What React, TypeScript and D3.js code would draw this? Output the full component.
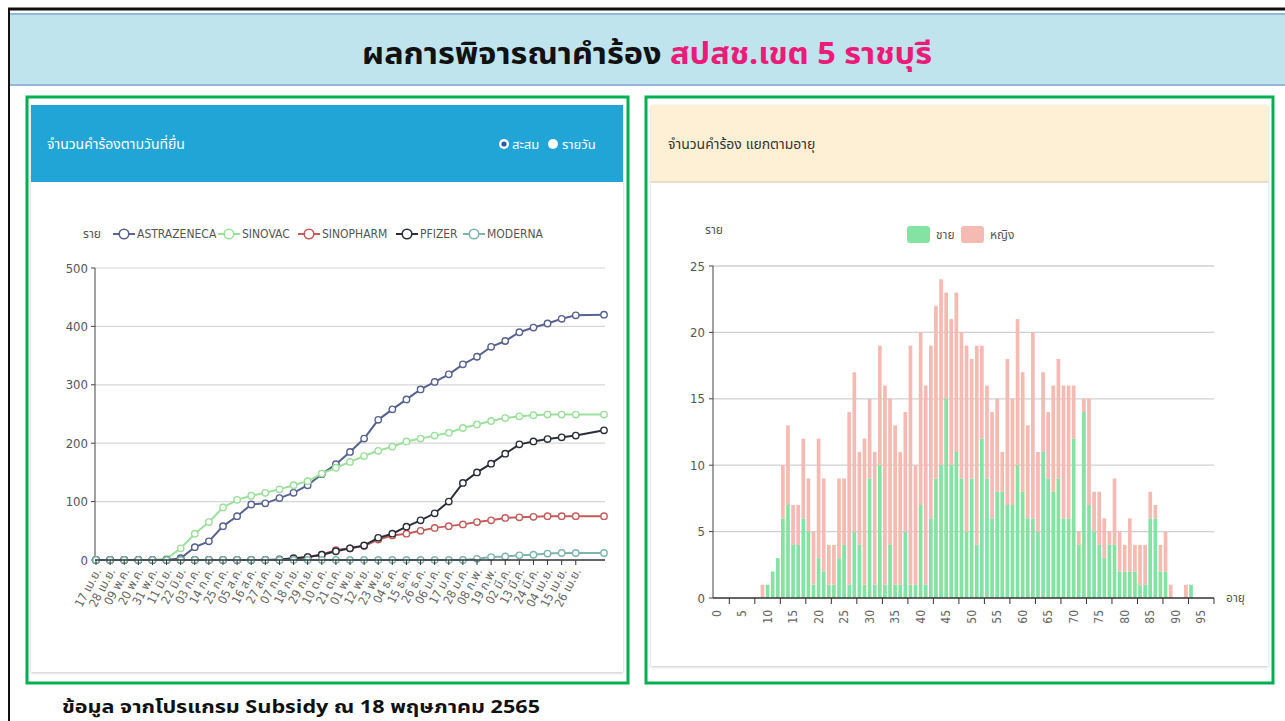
import React from "react";
import * as d3 from "d3";

// ---------- Left chart data (cumulative claims by vaccine) ----------
const dateLabels = [
  "17 เม.ย.", "28 เม.ย.", "09 พ.ค.", "20 พ.ค.", "31 พ.ค.", "11 มิ.ย.", "22 มิ.ย.", "03 ก.ค.",
  "14 ก.ค.", "25 ก.ค.", "05 ส.ค.", "16 ส.ค.", "27 ส.ค.", "07 ก.ย.", "18 ก.ย.", "29 ก.ย.",
  "10 ต.ค.", "21 ต.ค.", "01 พ.ย.", "12 พ.ย.", "23 พ.ย.", "04 ธ.ค.", "15 ธ.ค.", "26 ธ.ค.",
  "06 ม.ค.", "17 ม.ค.", "28 ม.ค.", "08 ก.พ.", "19 ก.พ.", "02 มี.ค.", "13 มี.ค.", "24 มี.ค.",
  "04 เม.ย.", "15 เม.ย.", "26 เม.ย.",
];
// day offsets (from 17 Apr 2021) of each plotted point; last point = 18 May 2022
const pointDays = [
  0, 11, 22, 33, 44, 55, 66, 77, 88, 99, 110, 121, 132, 143, 154, 165, 176, 187, 198, 209,
  220, 231, 242, 253, 264, 275, 286, 297, 308, 319, 330, 341, 352, 363, 374, 396,
];
const totalDays = 396;
const seriesNames = ["ASTRAZENECA", "SINOVAC", "SINOPHARM", "PFIZER", "MODERNA"];
const astrazeneca = [0, 0, 0, 0, 0, 0, 3, 22, 32, 58, 75, 95, 97, 106, 115, 128, 147, 164, 185, 208, 240, 258, 275, 292, 305, 318, 335, 348, 365, 375, 390, 398, 405, 413, 419, 420];
const sinovac = [0, 0, 0, 0, 0, 2, 20, 45, 65, 90, 103, 110, 115, 121, 128, 135, 148, 158, 168, 178, 187, 194, 203, 208, 213, 218, 226, 232, 238, 243, 246, 248, 249, 249, 249, 249];
const sinopharm = [0, 0, 0, 0, 0, 0, 0, 0, 0, 0, 0, 0, 0, 0, 2, 5, 9, 17, 20, 24, 35, 42, 45, 50, 55, 58, 61, 65, 68, 72, 73, 74, 75, 75, 75, 75];
const pfizer = [0, 0, 0, 0, 0, 0, 0, 0, 0, 0, 0, 0, 0, 1, 3, 5, 9, 15, 20, 25, 38, 45, 57, 68, 80, 100, 132, 150, 165, 182, 198, 203, 207, 210, 213, 222];
const moderna = [0, 0, 0, 0, 0, 0, 0, 0, 0, 0, 0, 0, 0, 0, 0, 0, 0, 0, 0, 0, 0, 0, 0, 0, 0, 0, 0, 2, 5, 6, 8, 9, 11, 12, 12, 12];
const seriesColors = ["#58628f", "#9be09b", "#c45c5a", "#2a2e38", "#7db5b0"];
const leftYTicks = [0, 100, 200, 300, 400, 500];

// ---------- Right chart data (claims by age, stacked male/female) ----------
const ages = d3.range(0, 98);
const maleCounts = [
  0, 0, 0, 0, 0, 0, 0, 0, 0, 0, // 0-9
  1, 2, 3, 6, 7, 4, 4, 6, 5, 1, // 10-19
  3, 2, 1, 1, 3, 4, 1, 5, 4, 1, // 20-29
  9, 1, 10, 1, 4, 1, 1, 5, 1, 1, // 30-39
  7, 1, 6, 9, 10, 15, 10, 11, 9, 5, // 40-49
  9, 4, 12, 9, 6, 8, 8, 7, 7, 10, // 50-59
  8, 6, 6, 5, 11, 9, 8, 9, 6, 6, // 60-69
  12, 4, 14, 7, 5, 4, 3, 4, 4, 2, // 70-79
  2, 2, 2, 1, 1, 6, 6, 2, 2, 0, // 80-89
  0, 0, 0, 1, 0, 0, 0, 0, // 90-97
];
const femaleCounts = [
  0, 0, 0, 0, 0, 0, 0, 0, 0, 1, // 0-9
  0, 0, 0, 4, 6, 3, 3, 6, 4, 4, // 10-19
  9, 7, 3, 3, 6, 5, 13, 12, 7, 11, // 20-29
  6, 10, 9, 15, 11, 12, 10, 9, 18, 9, // 30-39
  13, 15, 13, 13, 14, 8, 11, 12, 11, 14, // 40-49
  9, 15, 7, 7, 8, 7, 3, 11, 8, 11, // 50-59
  9, 7, 14, 6, 6, 5, 8, 9, 10, 10, // 60-69
  4, 1, 1, 8, 3, 4, 3, 1, 5, 3, // 70-79
  2, 4, 2, 3, 3, 2, 1, 2, 3, 1, // 80-89
  0, 0, 1, 0, 0, 0, 0, 0, // 90-97
];
const rightYTicks = [0, 5, 10, 15, 20, 25];
const ageLabelEvery = 5;

const FONT_TH = "'Noto Sans Thai', 'Tahoma', 'DejaVu Sans', sans-serif";
const FONT_COND = "'DejaVu Sans Condensed', 'Liberation Sans Narrow', 'Noto Sans Thai', sans-serif";

function LeftChart() {
  const x = d3.scaleLinear().domain([0, totalDays]).range([96, 604]);
  const y = d3.scaleLinear().domain([0, 500]).range([560, 268]);
  const all = [astrazeneca, sinovac, sinopharm, pfizer, moderna];
  const line = d3
    .line<number>()
    .x((_, i) => x(pointDays[i]))
    .y((d) => y(d));
  const legendX = [124, 229, 309, 407, 474];
  return (
    <g>
      {leftYTicks.filter((t) => t > 0).map((t) => (
        <line key={t} x1={95} x2={605} y1={y(t)} y2={y(t)} stroke="#d6d6d6" strokeWidth={1.2} />
      ))}
      <line x1={95} x2={95} y1={268} y2={560} stroke="#444" strokeWidth={1} />
      {leftYTicks.map((t) => (
        <g key={t}>
          <line x1={91} x2={95} y1={y(t)} y2={y(t)} stroke="#444" />
          <text x={88} y={y(t)} textAnchor="end" dominantBaseline="central" fontSize={13} fill="#555" fontFamily={FONT_COND}>
            {t}
          </text>
        </g>
      ))}
      {all.map((s, k) => (
        <g key={k}>
          <path d={line(s) || ""} fill="none" stroke={seriesColors[k]} strokeWidth={2} />
          {s.map((v, i) => (
            <circle key={i} cx={x(pointDays[i])} cy={y(v)} r={3.2} fill="#fff" stroke={seriesColors[k]} strokeWidth={1.4} />
          ))}
        </g>
      ))}
      <line x1={95} x2={605} y1={560} y2={560} stroke="#333" strokeWidth={1.5} />
      {dateLabels.map((lab, i) => {
        const px = x(i * 11);
        return (
          <g key={i}>
            <line x1={px} x2={px} y1={560} y2={565} stroke="#333" />
            <text
              transform={`translate(${px + 2},${569}) rotate(-62)`}
              textAnchor="end"
              dominantBaseline="central"
              fontSize={12}
              fill="#666"
              fontFamily={FONT_COND}
            >
              {lab}
            </text>
          </g>
        );
      })}
      <text x={92} y={234} textAnchor="middle" dominantBaseline="central" fontSize={12} fill="#555" fontFamily={FONT_COND}>
        ราย
      </text>
      {seriesNames.map((n, k) => (
        <g key={n}>
          <line x1={legendX[k] - 11} x2={legendX[k] + 11} y1={234} y2={234} stroke={seriesColors[k]} strokeWidth={2} />
          <circle cx={legendX[k]} cy={234} r={4.8} fill="#fff" stroke={seriesColors[k]} strokeWidth={1.6} />
          <text x={legendX[k] + 13} y={234} dominantBaseline="central" fontSize={12} fill="#555" fontFamily={FONT_COND}>
            {n}
          </text>
        </g>
      ))}
    </g>
  );
}

function RightChart() {
  const x = d3.scaleBand<number>().domain(ages).range([714, 1214]).paddingInner(0.28).paddingOuter(0.14);
  const y = d3.scaleLinear().domain([0, 25]).range([598, 266]);
  const step = x.step();
  const x0 = 714;
  const green = "#84e2a2";
  const pink = "#f5bab1";
  return (
    <g>
      {rightYTicks.filter((t) => t > 0).map((t) => (
        <line key={t} x1={713} x2={1214} y1={y(t)} y2={y(t)} stroke="#d0d0d0" strokeWidth={1.3} />
      ))}
      <line x1={713} x2={713} y1={266} y2={598} stroke="#444" />
      {rightYTicks.map((t) => (
        <g key={t}>
          <line x1={709} x2={713} y1={y(t)} y2={y(t)} stroke="#444" />
          <text x={705} y={y(t)} textAnchor="end" dominantBaseline="central" fontSize={13} fill="#555" fontFamily={FONT_COND}>
            {t}
          </text>
        </g>
      ))}
      {ages.map((a, i) => {
        const m = maleCounts[i];
        const f = femaleCounts[i];
        const bx = x(a) as number;
        const bw = x.bandwidth();
        return (
          <g key={a}>
            {m > 0 && <rect x={bx} width={bw} y={y(m)} height={y(0) - y(m)} fill={green} />}
            {f > 0 && <rect x={bx} width={bw} y={y(m + f)} height={y(m) - y(m + f)} fill={pink} />}
          </g>
        );
      })}
      <line x1={713} x2={1214} y1={598} y2={598} stroke="#333" strokeWidth={1.5} />
      {ages.map((a, i) =>
        i % ageLabelEvery === 3 ? (
          <line key={"t" + a} x1={x0 + i * step} x2={x0 + i * step} y1={598} y2={604} stroke="#333" />
        ) : null
      )}
      <line x1={1214} x2={1214} y1={598} y2={604} stroke="#333" />
      {ages.map((a) =>
        a % ageLabelEvery === 0 ? (
          <text
            key={"l" + a}
            transform={`translate(${(x(a) as number) + x.bandwidth() / 2},${610}) rotate(-90)`}
            textAnchor="end"
            dominantBaseline="central"
            fontSize={12}
            fill="#666"
            fontFamily={FONT_COND}
          >
            {a}
          </text>
        ) : null
      )}
      <text x={1226} y={598} dominantBaseline="central" fontSize={12} fill="#555" fontFamily={FONT_COND}>
        อายุ
      </text>
      <text x={714} y={230} textAnchor="middle" dominantBaseline="central" fontSize={12} fill="#555" fontFamily={FONT_COND}>
        ราย
      </text>
      <rect x={907} y={226} width={23} height={17} rx={3} fill={green} />
      <text x={936} y={235} dominantBaseline="central" fontSize={12} fill="#555" fontFamily={FONT_COND}>
        ชาย
      </text>
      <rect x={961} y={226} width={23} height={17} rx={3} fill={pink} />
      <text x={990} y={235} dominantBaseline="central" fontSize={12} fill="#555" fontFamily={FONT_COND}>
        หญิง
      </text>
    </g>
  );
}

export default function App() {
  return (
    <div style={{ position: "absolute", left: 0, top: 0, width: 1285, height: 721, overflow: "hidden", background: "#fff" }}>
      <svg width={1285} height={721} viewBox="0 0 1285 721" style={{ display: "block" }}>
        <defs>
          <filter id="sh" x="-5%" y="-5%" width="110%" height="110%">
            <feDropShadow dx="0" dy="1" stdDeviation="1.5" floodColor="#000" floodOpacity="0.22" />
          </filter>
        </defs>
        <rect x={0} y={0} width={1285} height={721} fill="#fff" />
        <line x1={8} x2={1285} y1={9} y2={9} stroke="#111" strokeWidth={3} />
        <line x1={9} x2={9} y1={8} y2={721} stroke="#111" strokeWidth={2} />
        <rect x={10} y={14} width={1275} height={71} fill="#bfe4ee" />
        <line x1={10} x2={1285} y1={14} y2={14} stroke="#8fb8da" strokeWidth={2} />
        <line x1={10} x2={1285} y1={85} y2={85} stroke="#8fb8da" strokeWidth={2} />
        <text
          x={362}
          y={55}
          dominantBaseline="central"
          fontSize={30}
          fontWeight="bold"
          fontFamily={FONT_TH}
          textLength={570}
          lengthAdjust="spacingAndGlyphs"
        >
          <tspan fill="#111">ผลการพิจารณาคำร้อง </tspan>
          <tspan fill="#ec1a78">สปสช.เขต 5 ราชบุรี</tspan>
        </text>

        {/* left panel */}
        <rect x={27} y={97} width={601} height={586} fill="none" stroke="#00b050" strokeWidth={3} />
        <rect x={31} y={105} width={592} height={567} fill="#fff" filter="url(#sh)" />
        <rect x={31} y={105} width={592} height={77} fill="#21a5d7" />
        <text x={47} y={144} dominantBaseline="central" fontSize={14} fill="#fff" fontFamily={FONT_COND}>
          จำนวนคำร้องตามวันที่ยื่น
        </text>
        <circle cx={504} cy={144} r={5} fill="#fff" />
        <circle cx={504} cy={144} r={2.6} fill="#2a5aa8" />
        <text x={512} y={144} dominantBaseline="central" fontSize={13} fill="#fff" fontFamily={FONT_COND}>
          สะสม
        </text>
        <circle cx={553} cy={144} r={5} fill="#fff" />
        <text x={562} y={144} dominantBaseline="central" fontSize={13} fill="#fff" fontFamily={FONT_COND}>
          รายวัน
        </text>
        <LeftChart />

        {/* right panel */}
        <rect x={646} y={97} width={627} height={586} fill="none" stroke="#00b050" strokeWidth={3} />
        <rect x={651} y={105} width={617} height={561} fill="#fff" filter="url(#sh)" />
        <rect x={651} y={105} width={617} height={77} fill="#fdf0d4" />
        <line x1={651} x2={1268} y1={182} y2={182} stroke="#e2d6bc" strokeWidth={1.5} />
        <text x={668} y={144} dominantBaseline="central" fontSize={14} fill="#333" fontFamily={FONT_COND}>
          จำนวนคำร้อง แยกตามอายุ
        </text>
        <RightChart />

        <text
          x={62}
          y={708}
          dominantBaseline="central"
          fontSize={17}
          fontWeight="bold"
          fill="#111"
          fontFamily={FONT_TH}
          textLength={478}
          lengthAdjust="spacingAndGlyphs"
        >
          ข้อมูล จากโปรแกรม Subsidy ณ 18 พฤษภาคม 2565
        </text>
      </svg>
    </div>
  );
}
